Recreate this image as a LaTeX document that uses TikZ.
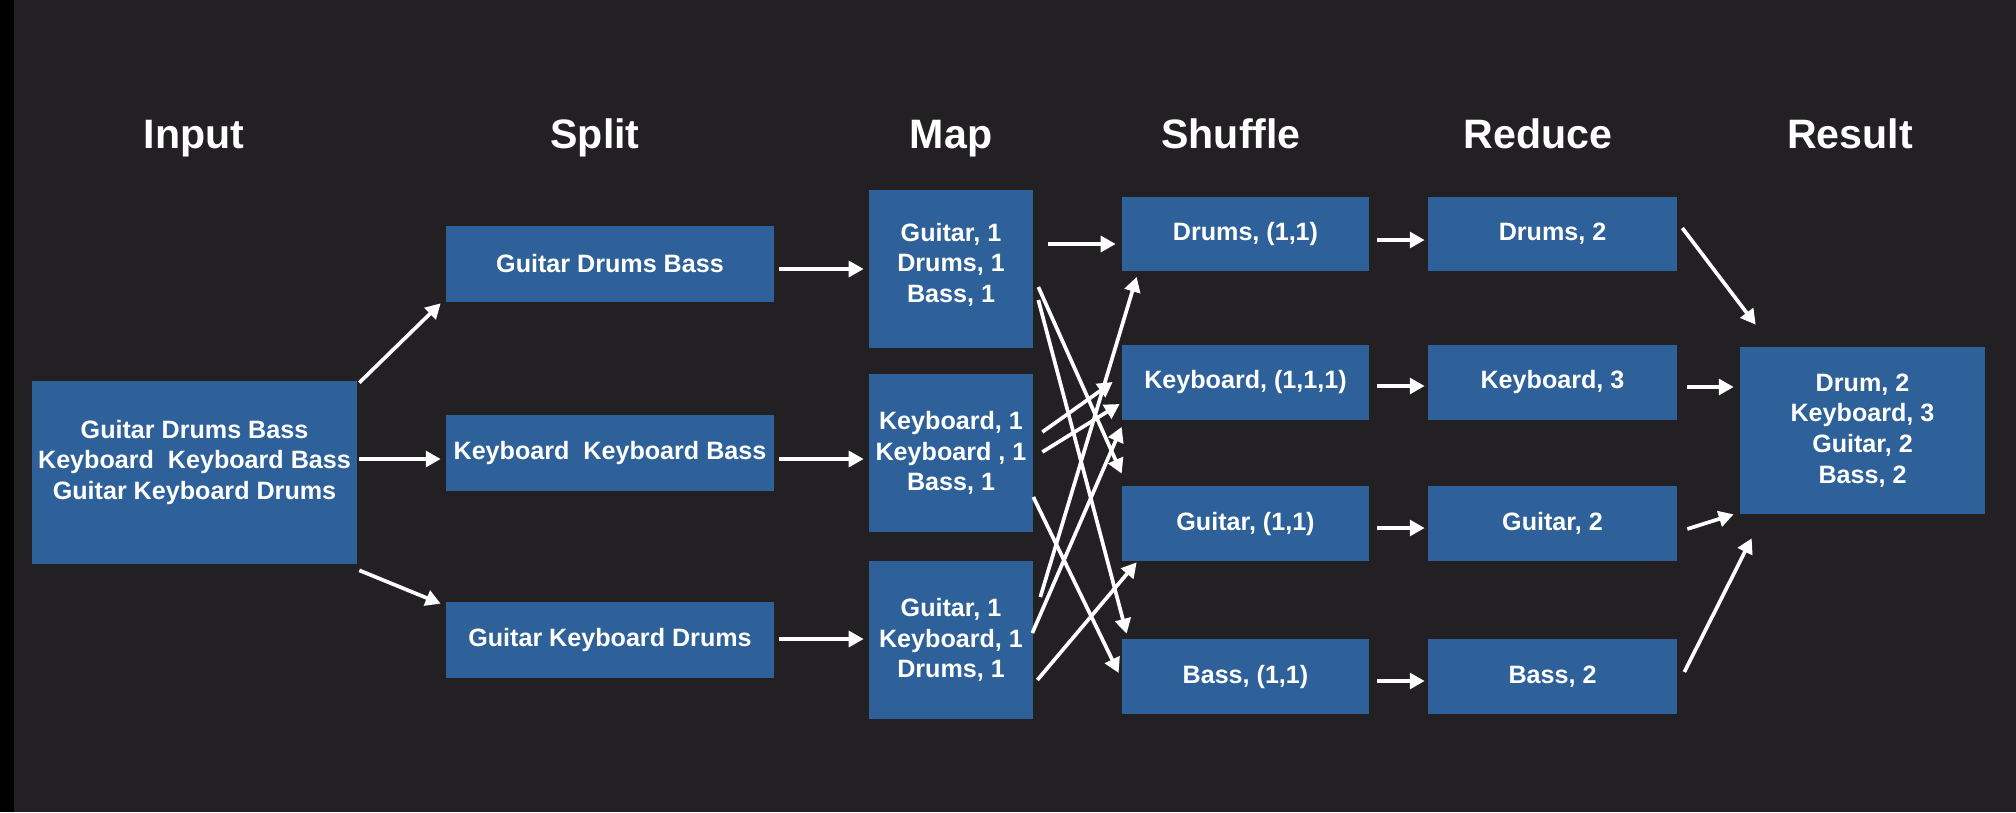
\documentclass[tikz,border=0pt]{standalone}
\usepackage{fontspec}
\setmainfont{Liberation Sans}
\usetikzlibrary{arrows.meta}
\definecolor{bgcol}{HTML}{222023}
\definecolor{boxblue}{HTML}{2E6199}

\begin{document}
\begin{tikzpicture}[x=0.02cm, y=-0.02cm,
  box/.style={fill=boxblue, inner sep=0pt, text=white, align=center,
              font=\bfseries\fontsize{14.3}{17.5}\selectfont},
  inbox/.style={box, minimum width=6.5cm, minimum height=3.66cm, text depth=14.5pt},
  splitbox/.style={box, minimum width=6.56cm, minimum height=1.52cm},
  mapbox/.style={box, minimum width=3.28cm, minimum height=3.16cm},
  shbox/.style={box, minimum width=4.94cm, minimum height=1.5cm},
  redbox/.style={box, minimum width=4.98cm, minimum height=1.5cm},
  resbox/.style={box, minimum width=4.9cm, minimum height=3.34cm},
  ttl/.style={anchor=base, text=white, font=\bfseries\fontsize{23.4}{28}\selectfont},
  arr/.style={-{Triangle[length=8.5pt, width=9pt]}, line width=2.1pt, white},
]
  % Background
  \fill[bgcol] (0,0) rectangle (2016,812);
  \fill[black] (0,0) rectangle (14,812);

  % Column titles
  \node[ttl] (tin) at (194,148) {Input};
  \node[ttl] (tsplit) at (595,148) {Split};
  \node[ttl] (tmap) at (951,148) {Map};
  \node[ttl] (tshuf) at (1231,148) {Shuffle};
  \node[ttl] (tred) at (1538,148) {Reduce};
  \node[ttl] (tres) at (1850,148) {Result};

  % Input and split
  \node[inbox] (inp) at (194.5,472.5) {Guitar Drums Bass\\Keyboard\ \ Keyboard Bass\\Guitar Keyboard Drums};
  \node[splitbox] (sp1) at (610,264) {Guitar Drums Bass};
  \node[splitbox] (sp2) at (610,453) {Keyboard\ \ Keyboard Bass};
  \node[splitbox] (sp3) at (610,640) {Guitar Keyboard Drums};
  \draw[arr] ([shift={(2,2)}]inp.north east) -- ([shift={(-5,1)}]sp1.south west);
  \draw[arr] ([shift={(2,-13.5)}]inp.east) -- ([shift={(-5,6)}]sp2.west);
  \draw[arr] ([shift={(2,6)}]inp.south east) -- ([shift={(-5,2)}]sp3.north west);

  % Map
  \node[mapbox, text depth=7pt] (mp1) at (951,269) {Guitar, 1\\Drums, 1\\Bass, 1};
  \node[mapbox] (mp2) at (951,453) {Keyboard, 1\\Keyboard , 1\\Bass, 1};
  \node[mapbox] (mp3) at (951,640) {Guitar, 1\\Keyboard, 1\\Drums, 1};
  \draw[arr] ([shift={(5,5)}]sp1.east) -- ([shift={(-5,0)}]mp1.west);
  \draw[arr] ([shift={(5,6)}]sp2.east) -- ([shift={(-5,6)}]mp2.west);
  \draw[arr] ([shift={(5,-1)}]sp3.east) -- ([shift={(-5,-1)}]mp3.west);

  % Shuffle
  \node[shbox] (sh1) at (1245.5,234) {Drums, (1,1)};
  \node[shbox] (sh2) at (1245.5,382) {Keyboard, (1,1,1)};
  \node[shbox] (sh3) at (1245.5,523.5) {Guitar, (1,1)};
  \node[shbox] (sh4) at (1245.5,676.5) {Bass, (1,1)};
  \draw[arr] ([shift={(15,-25)}]mp1.east) -- ([shift={(-6,10)}]sh1.west);
  \draw[arr] ([shift={(5,18)}]mp1.east) -- ([shift={(0,-12)}]sh3.north west);
  \draw[arr] ([shift={(5,31)}]mp1.east) -- ([shift={(5,-5)}]sh4.north west);
  \draw[arr] ([shift={(9,-21)}]mp2.east) -- ([shift={(-9,0)}]sh2.west);
  \draw[arr] ([shift={(9,-1)}]mp2.east) -- ([shift={(-2,22)}]sh2.west);
  \draw[arr] ([shift={(0,44)}]mp2.east) -- ([shift={(-3,-3.5)}]sh4.west);
  \draw[arr] ([shift={(7,-43)}]mp3.east) -- ([shift={(15,5)}]sh1.south west);
  \draw[arr] ([shift={(-1,-7)}]mp3.east) -- ([shift={(0,7)}]sh2.south west);
  \draw[arr] ([shift={(4,40)}]mp3.east) -- ([shift={(15,1)}]sh3.south west);

  % Reduce
  \node[redbox] (rd1) at (1552.5,234) {Drums, 2};
  \node[redbox] (rd2) at (1552.5,382) {Keyboard, 3};
  \node[redbox] (rd3) at (1552.5,523.5) {Guitar, 2};
  \node[redbox] (rd4) at (1552.5,676.5) {Bass, 2};
  \draw[arr] ([shift={(8,6)}]sh1.east) -- ([shift={(-3,6)}]rd1.west);
  \draw[arr] ([shift={(8,4)}]sh2.east) -- ([shift={(-3,4)}]rd2.west);
  \draw[arr] ([shift={(8,4.5)}]sh3.east) -- ([shift={(-3,4.5)}]rd3.west);
  \draw[arr] ([shift={(8,4.5)}]sh4.east) -- ([shift={(-3,4.5)}]rd4.west);

  % Result
  \node[resbox] (res) at (1862.5,430.5) {Drum, 2\\Keyboard, 3\\Guitar, 2\\Bass, 2};
  \draw[arr] ([shift={(5,-6)}]rd1.east) -- ([shift={(16,-22)}]res.north west);
  \draw[arr] ([shift={(10,5)}]rd2.east) -- ([shift={(-6,-43.5)}]res.west);
  \draw[arr] ([shift={(10,5.5)}]rd3.east) -- ([shift={(-6,0)}]res.south west);
  \draw[arr] ([shift={(7,-4.5)}]rd4.east) -- ([shift={(12,24)}]res.south west);
\end{tikzpicture}
\end{document}
